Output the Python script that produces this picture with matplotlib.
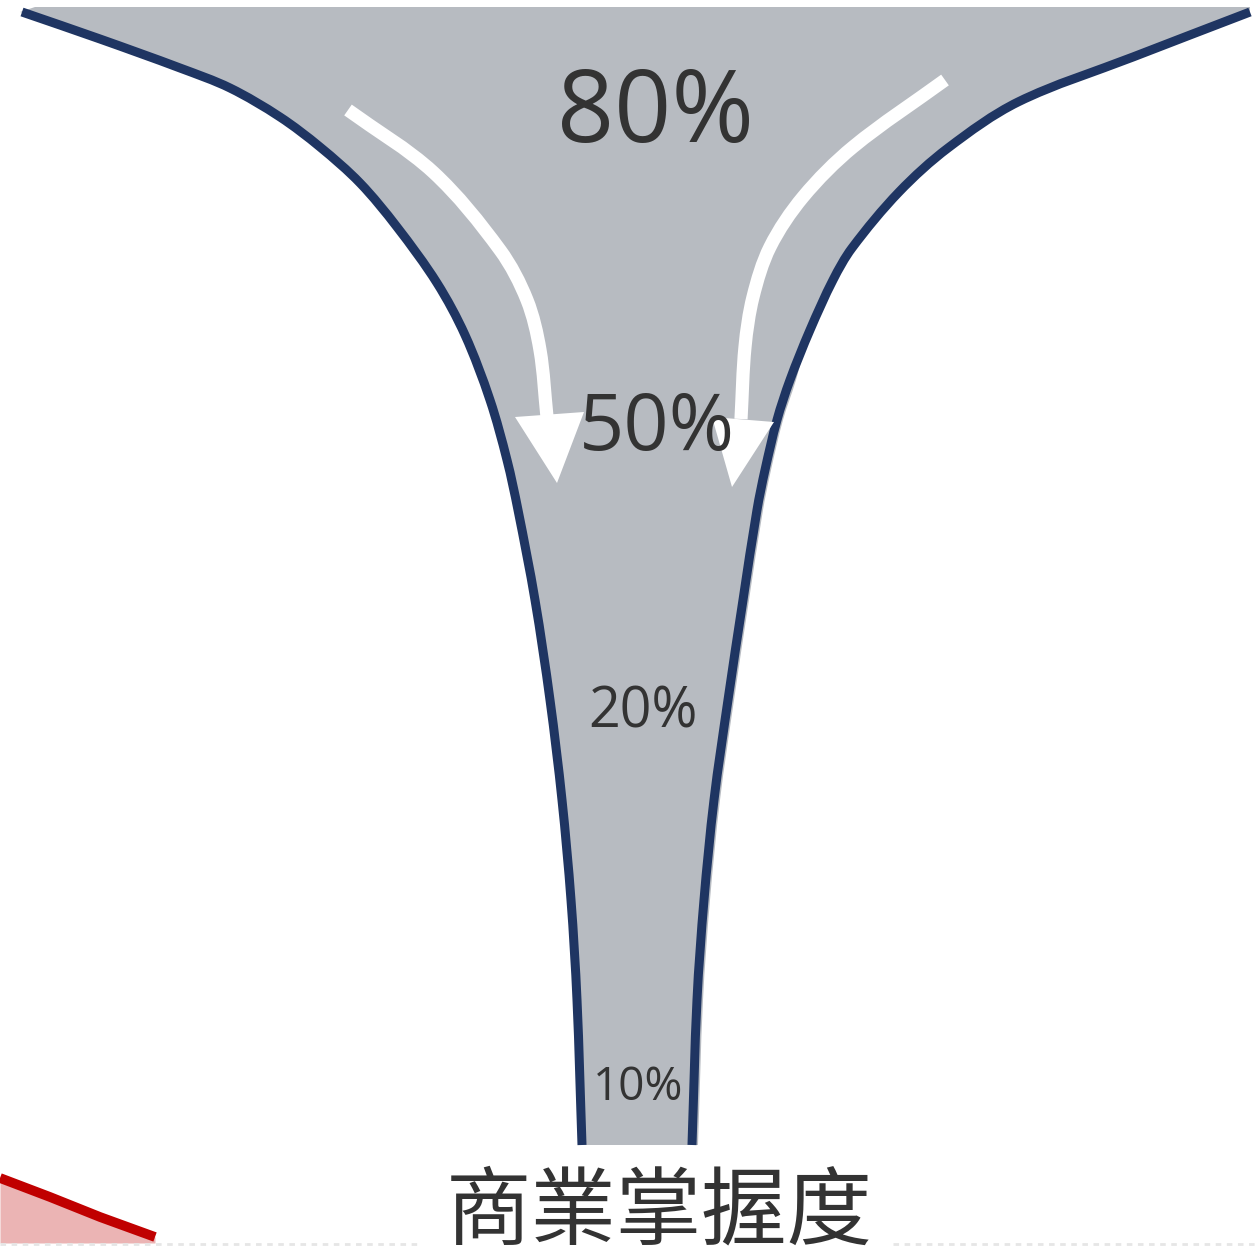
import numpy as np
import matplotlib.pyplot as plt
from matplotlib.path import Path
from matplotlib.patches import PathPatch, Polygon

# funnel stages, top to bottom
shares = ["80%", "50%", "20%", "10%"]
share_x = [655, 657, 643, 638]
share_y = [142, 450, 728, 1100]
share_size = [72, 57, 40, 33]
title = "商業掌握度"

# outline of the funnel (pixel space, y downwards)
left_edge = [(22, 12), (100, 39), (180, 68), (230, 88), (280, 117), (320, 147),
             (360, 183), (397, 227), (437, 283), (465, 335), (490, 400), (507, 460),
             (518, 510), (535, 600), (550, 700), (562, 800), (571, 900), (577, 1000),
             (582, 1145)]
right_edge = [(1250, 12), (1133, 57), (1018, 102), (948, 148), (899, 192), (852, 248),
              (833, 280), (810, 330), (790, 380), (777, 420), (765, 470), (757, 510),
              (743, 600), (728, 700), (714, 800), (704, 900), (697, 1000), (692, 1145)]

left_arrow = [(348, 110), (433, 172), (500, 250), (527, 300), (540, 350), (547, 417)]
left_head = [(515, 417), (584, 412), (557, 483)]
right_arrow = [(945, 80), (853, 147), (803, 197), (770, 247), (753, 297), (745, 347),
               (741, 419)]
right_head = [(712, 417), (774, 422), (732, 487)]

red_curve = [(0, 1178), (50, 1197), (100, 1217), (155, 1237)]

NAVY = "#1f3562"
GRAY = "#b7bbc1"
TEXT = "#333333"


def smooth_path(pts):
    # chord-length catmull-rom through the points, as cubic bezier segments
    p = np.array(pts, dtype=float)
    d = np.linalg.norm(np.diff(p, axis=0), axis=1)
    n = len(p)
    tang = np.zeros_like(p)
    tang[0] = (p[1] - p[0]) / d[0]
    tang[-1] = (p[-1] - p[-2]) / d[-1]
    for i in range(1, n - 1):
        tang[i] = (p[i + 1] - p[i - 1]) / (d[i - 1] + d[i])
    verts = [p[0]]
    codes = [Path.MOVETO]
    for i in range(n - 1):
        verts += [p[i] + tang[i] * d[i] / 3, p[i + 1] - tang[i + 1] * d[i] / 3, p[i + 1]]
        codes += [Path.CURVE4] * 3
    return verts, codes


fig = plt.figure(figsize=(12.56, 12.47), dpi=100)
ax = fig.add_axes([0, 0, 1, 1])
ax.set_xlim(0, 1256)
ax.set_ylim(1247, 0)
ax.axis("off")

# gray body, slightly wider than the outline on the lower right
fill_left = [(x - 2, y) for x, y in left_edge]
fill_right = [(x + (6 if y >= 350 else 0), y) for x, y in right_edge]
lv, lc = smooth_path(fill_left)
rv, rc = smooth_path(fill_right[::-1])
verts = [(35, 7)] + lv + rv + [(1250, 7), (35, 7)]
codes = ([Path.MOVETO, Path.LINETO] + lc[1:] + [Path.LINETO] + rc[1:]
         + [Path.LINETO, Path.CLOSEPOLY])
ax.add_patch(PathPatch(Path(verts, codes), facecolor=GRAY, edgecolor="none", zorder=1))

for edge in (left_edge, right_edge):
    v, c = smooth_path(edge)
    ax.add_patch(PathPatch(Path(v, c), facecolor="none", edgecolor=NAVY,
                           lw=6.5, capstyle="butt", zorder=3))

# white flow arrows
for shaft, head in ((left_arrow, left_head), (right_arrow, right_head)):
    v, c = smooth_path(shaft)
    ax.add_patch(PathPatch(Path(v, c), facecolor="none", edgecolor="white",
                           lw=9.5, capstyle="butt", zorder=4))
    ax.add_patch(Polygon(head, closed=True, facecolor="white", edgecolor="none", zorder=4))

for s, x, y, fs in zip(shares, share_x, share_y, share_size):
    ax.text(x, y, s, ha="center", va="baseline", fontsize=fs, color=TEXT,
            family=["Open Sans", "DejaVu Sans"], zorder=5)

ax.text(659, 1237, title, ha="center", va="baseline", fontsize=61.5, color=TEXT,
        family=["Noto Sans CJK TC", "DejaVu Sans"], zorder=5)

# red trend line in the lower left corner
rx = [p[0] for p in red_curve]
ry = [p[1] for p in red_curve]
ax.fill_between(rx, ry, 1243, color="#ebb4b4", lw=0, zorder=1)
ax.plot(rx, ry, color="#c00000", lw=7, solid_capstyle="butt", zorder=2)

# faint dashed baseline
ax.plot([0, 422], [1244, 1244], color="#e6e6e6", lw=2, ls=(0, (2, 2)), zorder=1)
ax.plot([893, 1256], [1244, 1244], color="#e6e6e6", lw=2, ls=(0, (2, 2)), zorder=1)

fig.savefig("out.png", dpi=100)
